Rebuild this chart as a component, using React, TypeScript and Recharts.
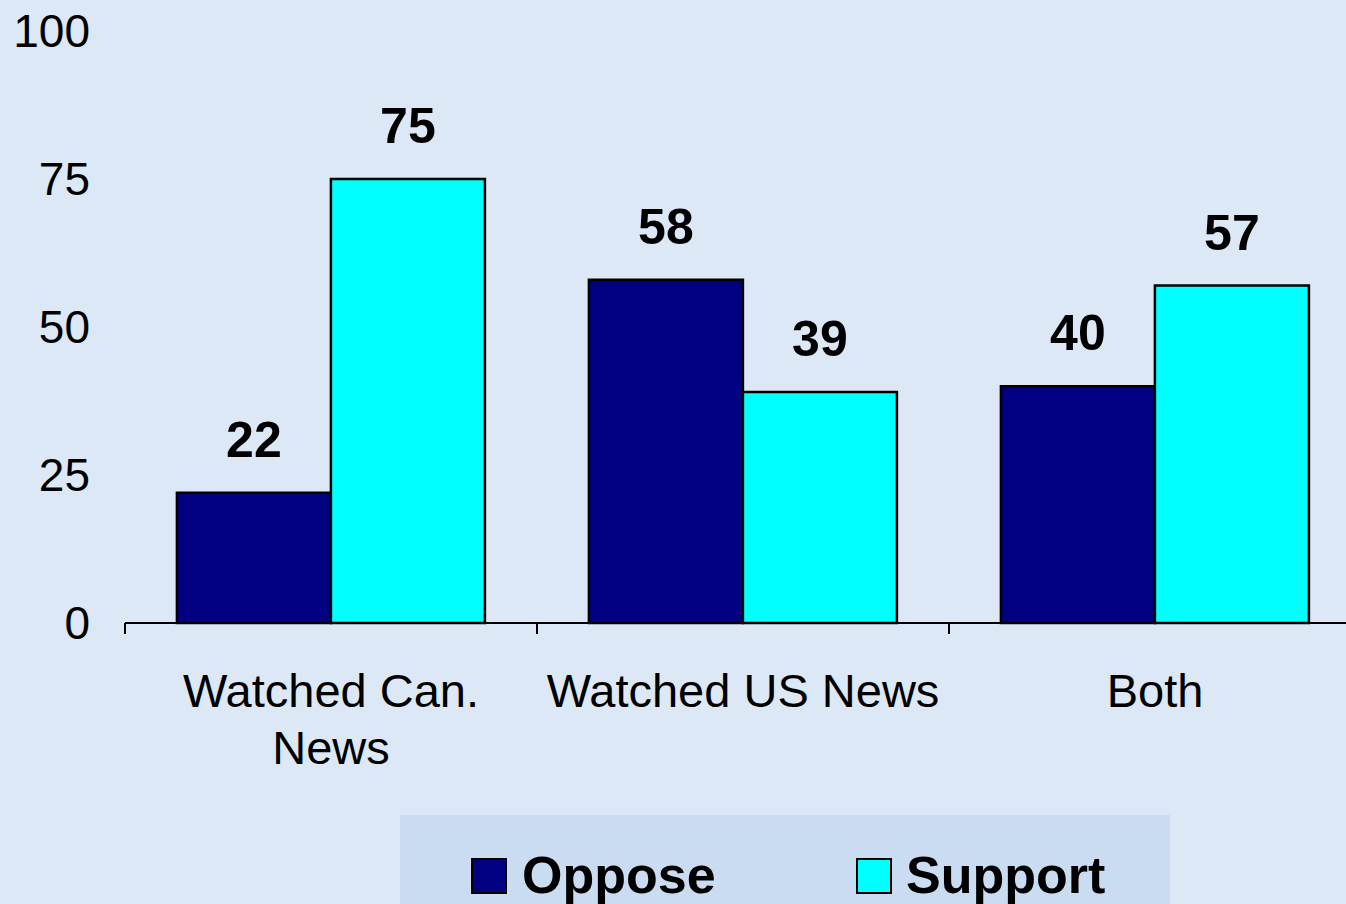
import React from 'react';
import { BarChart, Bar, XAxis, YAxis, LabelList, Legend } from 'recharts';

const categories = ['Watched Can. News', 'Watched US News', 'Both'];
const categoryLines = [['Watched Can.', 'News'], ['Watched US News'], ['Both']];
const oppose = [22, 58, 40];
const support = [75, 39, 57];
const yTicks = [0, 25, 50, 75, 100];

const data = categories.map((name, i) => ({ name, oppose: oppose[i], support: support[i] }));

const W = 1362;
const H = 904;
const LEFT = 125;
const RIGHT = 1;
const BAND = (W - LEFT - RIGHT) / categories.length;
const FONT = '"Liberation Sans", Arial, sans-serif';

const CategoryTick = (props: any) => {
  const { x, y, payload } = props;
  const idx = categories.indexOf(payload.value);
  const lines = categoryLines[idx] || [payload.value];
  return (
    <g>
      <line x1={x - BAND / 2} x2={x - BAND / 2} y1={y} y2={y + 11} stroke="#000" strokeWidth={2} />
      <text x={x} y={y + 84} textAnchor="middle" fontSize={47} fill="#000" fontFamily={FONT}>
        {lines.map((l, i) => (
          <tspan key={i} x={x} dy={i === 0 ? 0 : 57}>{l}</tspan>
        ))}
      </text>
    </g>
  );
};

const LegendBox = () => (
  <div
    style={{
      width: 770,
      height: 89,
      background: '#cadcf2',
      position: 'relative',
      fontFamily: FONT,
    }}
  >
    {[
      { label: 'Oppose', color: '#000080', sx: 71, tx: 122 },
      { label: 'Support', color: '#00ffff', sx: 456, tx: 506 },
    ].map((it) => (
      <React.Fragment key={it.label}>
        <div
          style={{
            position: 'absolute',
            left: it.sx,
            top: 43,
            width: 32,
            height: 32,
            background: it.color,
            border: '2px solid #000',
          }}
        />
        <div
          style={{
            position: 'absolute',
            left: it.tx,
            top: 30,
            fontSize: 52,
            fontWeight: 700,
            lineHeight: '60px',
            color: '#000',
          }}
        >
          {it.label}
        </div>
      </React.Fragment>
    ))}
  </div>
);

export default function App() {
  return (
    <div
      style={{
        position: 'fixed',
        left: 0,
        top: 0,
        width: 1346,
        height: 904,
        overflow: 'hidden',
        background: '#dce8f6',
        fontFamily: FONT,
      }}
    >
      <BarChart
        width={W}
        height={H}
        data={data}
        margin={{ top: 31, right: RIGHT, left: 0, bottom: 0 }}
        barCategoryGap="12.6%"
        barGap={0}
      >
        <XAxis
          dataKey="name"
          height={192}
          tickLine={false}
          tickSize={0}
          tickMargin={0}
          axisLine={{ stroke: '#000', strokeWidth: 2 }}
          tick={<CategoryTick />}
          interval={0}
        />
        <YAxis
          width={LEFT}
          domain={[0, 100]}
          ticks={yTicks}
          axisLine={false}
          tickLine={false}
          tickSize={0}
          tickMargin={35}
          tick={{ fontSize: 46, fill: '#000', fontFamily: FONT }}
        />
        <Legend
          content={<LegendBox />}
          wrapperStyle={{ left: 400, top: 815, bottom: 'auto', width: 770, height: 89 }}
        />
        <Bar dataKey="oppose" name="Oppose" fill="#000080" stroke="#000" strokeWidth={2.5} isAnimationActive={false}>
          <LabelList dataKey="oppose" position="top" offset={36} fill="#000" fontSize={50} fontWeight={700} fontFamily={FONT} />
        </Bar>
        <Bar dataKey="support" name="Support" fill="#00ffff" stroke="#000" strokeWidth={2.5} isAnimationActive={false}>
          <LabelList dataKey="support" position="top" offset={36} fill="#000" fontSize={50} fontWeight={700} fontFamily={FONT} />
        </Bar>
      </BarChart>
    </div>
  );
}
